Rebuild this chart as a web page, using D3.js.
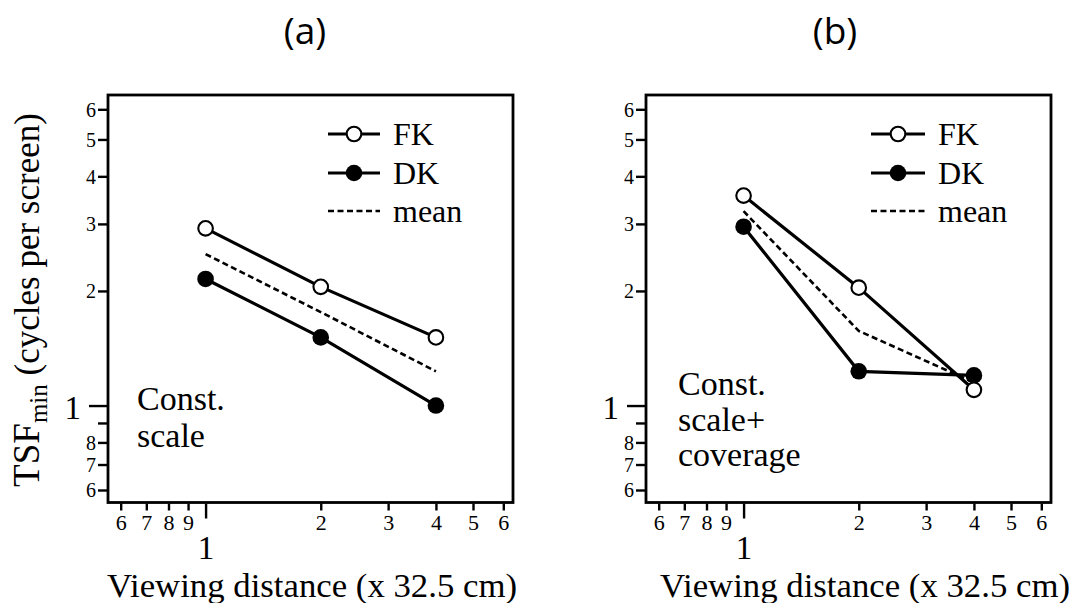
<!DOCTYPE html>
<html>
<head>
<meta charset="utf-8">
<script src="https://cdn.jsdelivr.net/npm/d3@7"></script>
<style>
  html, body { margin: 0; padding: 0; background: #fff; }
  svg { display: block; }
</style>
</head>
<body>
<script>
// ---------- data ----------
const distances = [1, 2, 4];                 // viewing distance (x 32.5 cm)
const fkA   = [2.92, 2.05, 1.51];            // panel (a) FK
const dkA   = [2.15, 1.51, 1.00];            // panel (a) DK
const meanA = [2.50, 1.76, 1.23];            // panel (a) mean
const fkB   = [3.56, 2.04, 1.10];            // panel (b) FK
const dkB   = [2.95, 1.23, 1.20];            // panel (b) DK
const meanB = [3.24, 1.57, 1.15];            // panel (b) mean
const yTicks = [0.6, 0.7, 0.8, 0.9, 1, 2, 3, 4, 5, 6];
const yTickLabels = ["6", "7", "8", "", "1", "2", "3", "4", "5", "6"];
const xTicks = [0.6, 0.7, 0.8, 0.9, 1, 2, 3, 4, 5, 6];
const xTickLabels = ["6", "7", "8", "9", "1", "2", "3", "4", "5", "6"];
const panelTitles = ["(a)", "(b)"];
const legendLabels = ["FK", "DK", "mean"];
const notesA = ["Const.", "scale"];
const notesB = ["Const.", "scale+", "coverage"];
const xTitle = "Viewing distance (x 32.5 cm)";

// ---------- drawing ----------
const SERIF = "'Liberation Serif', 'Times New Roman', serif";
const SANS = "'Open Sans', 'Noto Sans', sans-serif";
const W = 1074, H = 603;
const svg = d3.select("body").append("svg").attr("width", W).attr("height", H)
  .attr("font-family", SERIF);

const serif = sel => sel.attr("font-family", SERIF).style("font-family", SERIF);

const panels = [
  { title: panelTitles[0], fk: fkA, dk: dkA, mean: meanA, notes: notesA, dx: 0,
    titleX: 305, legX0: 328, legX1: 380, legTX: 393, noteX: 137, noteY0: 410, noteDy: 36.5, xTitleX: 312 },
  { title: panelTitles[1], fk: fkB, dk: dkB, mean: meanB, notes: notesB, dx: 538,
    titleX: 835, legX0: 871, legX1: 925, legTX: 938, noteX: 678, noteY0: 395, noteDy: 35.5, xTitleX: 865 }
];

const frameLeft = 108, frameTop = 95, frameW = 405, frameH = 407.5;

panels.forEach(p => {
  const g = svg.append("g");
  const x = d3.scaleLog().domain([0.6, 6]).range([120.7 + p.dx, 503.3 + p.dx]);
  const y = d3.scaleLog().domain([0.6, 6]).range([490, 109.3]);
  const fl = frameLeft + p.dx;

  // title
  g.append("text").attr("x", p.titleX).attr("y", 44)
    .attr("text-anchor", "middle")
    .attr("font-family", SANS).style("font-family", SANS)
    .style("font-size", "37px")
    .text(p.title);

  // frame
  g.append("rect").attr("x", fl).attr("y", frameTop)
    .attr("width", frameW).attr("height", frameH)
    .attr("fill", "none").attr("stroke", "#000").attr("stroke-width", 2.8);

  // y axis
  const ya = g.append("g").attr("transform", `translate(${fl},0)`)
    .call(d3.axisLeft(y).tickValues(yTicks).tickSize(10).tickPadding(3)
      .tickFormat((d, i) => yTickLabels[i]));
  ya.attr("font-family", SERIF);
  ya.select(".domain").remove();
  ya.selectAll(".tick line").attr("stroke", "#000").attr("stroke-width", 2.4)
    .attr("x2", d => d === 1 ? -19 : -10);
  ya.selectAll(".tick text").call(serif)
    .style("font-size", d => d === 1 ? "33px" : "20px")
    .attr("x", d => d === 1 ? -27 : -12)
    .attr("dy", d => d === 1 ? "0.38em" : "0.34em");

  // x axis
  const xa = g.append("g").attr("transform", `translate(0,${frameTop + frameH})`)
    .call(d3.axisBottom(x).tickValues(xTicks).tickSize(8).tickPadding(3)
      .tickFormat((d, i) => xTickLabels[i]));
  xa.attr("font-family", SERIF);
  xa.select(".domain").remove();
  xa.selectAll(".tick line").attr("stroke", "#000").attr("stroke-width", 2.4)
    .attr("y1", 1).attr("y2", d => d === 1 ? 16 : 8);
  xa.selectAll(".tick text").call(serif)
    .style("font-size", d => d === 1 ? "33px" : "22px")
    .attr("y", d => d === 1 ? 33 : 12)
    .attr("dy", "0.71em");

  // x title
  g.append("text").call(serif).attr("x", p.xTitleX).attr("y", 597)
    .attr("text-anchor", "middle")
    .style("font-size", "33px")
    .attr("textLength", 410).attr("lengthAdjust", "spacingAndGlyphs")
    .text(xTitle);

  // series
  const line = d3.line().x(d => x(d[0])).y(d => y(d[1]));
  const pts = arr => distances.map((d, i) => [d, arr[i]]);

  g.append("path").datum(pts(p.mean)).attr("d", line)
    .attr("fill", "none").attr("stroke", "#000").attr("stroke-width", 2.6)
    .attr("stroke-dasharray", "6,3.5");
  g.append("path").datum(pts(p.dk)).attr("d", line)
    .attr("fill", "none").attr("stroke", "#000").attr("stroke-width", 3.2);
  g.append("path").datum(pts(p.fk)).attr("d", line)
    .attr("fill", "none").attr("stroke", "#000").attr("stroke-width", 3.2);

  g.selectAll(".dk").data(pts(p.dk)).join("circle")
    .attr("cx", d => x(d[0])).attr("cy", d => y(d[1])).attr("r", 8.3)
    .attr("fill", "#000");
  g.selectAll(".fk").data(pts(p.fk)).join("circle")
    .attr("cx", d => x(d[0])).attr("cy", d => y(d[1])).attr("r", 7.3)
    .attr("fill", "#fff").attr("stroke", "#000").attr("stroke-width", 2.1);

  // legend
  const legYs = [134, 173, 211];
  legendLabels.forEach((lab, i) => {
    const ly = legYs[i];
    const l = g.append("line").attr("x1", p.legX0).attr("x2", p.legX1)
      .attr("y1", ly).attr("y2", ly).attr("stroke", "#000");
    if (i === 2) {
      l.attr("stroke-width", 2.6).attr("stroke-dasharray", "6,3.5");
    } else {
      l.attr("stroke-width", 3.2);
      const cxm = (p.legX0 + p.legX1) / 2;
      if (i === 0) {
        g.append("circle").attr("cx", cxm).attr("cy", ly).attr("r", 7.3)
          .attr("fill", "#fff").attr("stroke", "#000").attr("stroke-width", 2.1);
      } else {
        g.append("circle").attr("cx", cxm).attr("cy", ly).attr("r", 8.3).attr("fill", "#000");
      }
    }
    g.append("text").call(serif).attr("x", p.legTX).attr("y", ly).attr("dy", "0.34em")
      .style("font-size", "32px").text(lab);
  });

  // notes
  p.notes.forEach((t, i) => {
    g.append("text").call(serif).attr("x", p.noteX).attr("y", p.noteY0 + i * p.noteDy)
      .style("font-size", "34px").text(t);
  });
});

// y axis title (shared, left)
const yt = svg.append("text").call(serif)
  .attr("transform", "translate(39,300) rotate(-90)")
  .attr("text-anchor", "middle");
yt.append("tspan").style("font-size", "37px").text("TSF");
yt.append("tspan").style("font-size", "25px").attr("dy", 8).text("min");
yt.append("tspan").style("font-size", "35px").attr("dy", -8).text("\u00A0(cycles per screen)");
</script>
</body>
</html>
